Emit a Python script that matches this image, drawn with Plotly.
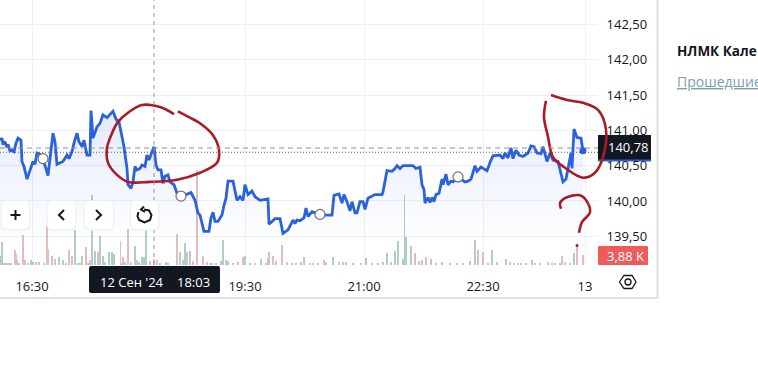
import plotly.graph_objects as go

W, H = 758, 370

# Price line: bar index / price
price_x = [0,2,3,5,7,8,10,12,14,16,18,21,22,24,27,29,31,33,35,37,40,43,46,48,50,53,55,57,63,67,69,72,74,77,79,82,84,87,90,91,93,97,100,
           103,107,110,113,116,119,122,124,127,128,131,133,135,137,140,142,145,147,149,152,154,156,158,161,163,165,168,170,174,177,181,186,191,195,198,
           200,202,204,209,211,213,215,218,222,224,226,228,233,237,240,243,245,248,252,255,260,268,269,275,280,283,288,293,295,297,
           300,304,306,308,312,316,320,327,332,334,339,342,344,347,350,352,355,357,360,363,365,368,375,382,383,387,392,395,397,
           400,403,413,416,420,422,424,425,428,430,432,434,436,439,442,443,446,448,451,453,458,465,468,471,475,477,481,487,491,493,
           500,503,505,508,511,513,516,519,523,528,531,534,537,541,543,545,547,550,553,558,561,563,566,568,571,572,574,577,581,583]
price_y = [140.86,140.89,140.80,140.84,140.76,140.80,140.71,140.72,140.70,140.82,140.89,140.86,140.56,140.49,140.31,140.39,140.46,140.56,140.52,140.68,140.66,140.58,140.46,140.36,140.60,140.96,140.84,140.52,140.56,140.65,140.60,140.70,140.82,140.96,140.84,140.77,140.86,140.65,140.65,141.28,140.89,141.05,141.10,
           141.22,141.18,141.22,141.27,141.16,141.12,140.91,140.77,140.46,140.23,140.18,140.27,140.49,140.44,140.46,140.51,140.49,140.65,140.58,140.70,140.77,140.51,140.44,140.44,140.25,140.35,140.37,140.27,140.23,140.11,140.07,140.09,140.12,140.01,139.83,
           139.80,139.66,139.57,139.57,139.76,139.84,139.71,139.71,139.80,139.94,140.04,140.28,140.28,140.01,140.06,140.01,140.23,140.09,140.14,140.06,140.01,140.03,139.67,139.75,139.75,139.54,139.59,139.73,139.68,139.73,
           139.72,139.76,139.90,139.78,139.85,139.83,139.81,139.80,139.80,140.08,140.10,139.97,140.09,139.99,139.86,139.99,139.83,139.83,139.99,139.99,139.88,140.04,140.09,140.09,140.13,140.43,140.42,140.46,140.50,
           140.46,140.50,140.50,140.46,140.48,140.23,140.16,139.97,140.05,139.98,140.05,139.99,140.09,140.11,140.31,140.23,140.38,140.23,140.28,140.27,140.34,140.27,140.28,140.31,140.50,140.42,140.48,140.43,140.58,140.64,
           140.65,140.60,140.68,140.61,140.75,140.60,140.72,140.65,140.63,140.68,140.78,140.77,140.68,140.67,140.77,140.65,140.56,140.68,140.58,140.56,140.39,140.27,140.31,140.46,140.68,140.46,141.02,140.90,140.89,140.71]

# Hollow event markers
event_x = [43, 181, 320, 458]
event_y = [140.60, 140.07, 139.81, 140.34]

# Volume (thousands)
vol_up_x = [0,2,4,6,11,19,28,31,33,39,44,59,63,66,75,78,82,88,92,95,100,103,105,109,112,114,121,125,135,139,142,144,146,160,166,180,183,185,190,
            207,212,216,221,223,226,228,233,245,250,261,266,276,287,292,
            301,304,310,318,333,343,353,366,372,383,387,391,395,398,403,404.5,406,411,431,442,450,457,470,475,492,497,
            506,514,521,526,532,540,552,560,570,574]
vol_up = [3.6,9.0,0.8,0.7,0.6,0.6,0.8,2.1,1.0,1.3,0.7,3.0,2.1,0.7,13.7,0.8,3.6,0.9,27.0,5.6,11.2,3.6,1.0,5.0,5.0,4.3,0.9,1.0,7.5,1.0,3.0,3.0,13.7,0.7,1.0,5.0,2.1,8.5,5.6,
          0.8,0.7,0.6,1.7,9.7,2.1,1.7,0.7,3.6,0.6,2.3,0.8,1.7,1.3,0.6,
          1.0,3.0,0.5,0.6,3.0,1.0,0.7,2.6,0.6,1.3,4.6,1.0,5.6,9.5,2.3,27.0,10.7,7.5,2.3,1.0,0.6,0.7,1.7,9.7,6.0,1.0,
          2.3,0.7,0.6,0.7,2.0,0.6,0.7,0.6,0.8,4.5]
vol_down_x = [7,9,15,16,17,23,25,36,47,48,52,55,69,72,80,86,90,98,120.7,123,128,131,137,150,154,157,168,177,187,193,197,
              203,207,210,238,243,255,268,269,273,282,296,
              313,324,326,339,346,361,378,415,419,422,426,436,463,478,483,488,
              510,518,535,548,555,562,565,577,583]
vol_down = [0.8,0.6,6.0,4.3,2.0,11.5,2.0,1.3,15.2,6.2,3.4,2.3,6.0,3.4,0.6,7.0,2.1,4.9,9.4,3.0,14.0,1.0,2.0,1.7,2.3,2.0,0.8,12.0,5.0,1.7,36.9,
            3.6,1.3,0.6,1.3,3.0,0.6,2.6,5.0,3.6,7.8,0.7,
            0.6,2.1,1.0,1.3,1.0,0.6,0.7,4.5,1.7,2.1,3.0,0.7,0.7,6.0,4.9,0.8,
            1.3,0.6,0.7,1.0,0.6,3.6,1.0,6.8,3.9]

# Hand-drawn ink, on scales that run across the full width
ink1a_x = [174,160,142,128,118,112,107,108,117,128,150,177,200,217,219,213,200,190,178]
ink1a_y = [141.23,141.33,141.36,141.25,141.12,140.96,140.75,140.54,140.37,140.27,140.27,140.30,140.40,140.54,140.72,140.93,141.10,141.18,141.27]
ink2_x = [546,544,548,553,565,583,595,603,606,598,583,567,551]
ink2_y = [141.42,141.19,140.91,140.62,140.47,140.33,140.40,140.62,141.01,141.29,141.39,141.43,141.50]
ink3_x = [561,560,565,580,587,590,582,579]
ink3_y = [139.89,139.97,140.04,140.08,139.99,139.84,139.70,139.55]
ink_dot_x = [577]
ink_dot_y = [139.37]

# Axes
x_ticks = [32, 245, 364, 483, 585]
x_labels = ["16:30", "19:30", "21:00", "22:30", "13"]
y_ticks = [139.5, 140.0, 140.5, 141.0, 141.5, 142.0, 142.5]
price_range = [139.093, 142.847]
crosshair_x = 154
crosshair_price = 140.75
last_price_line = 140.69

FONT = "Open Sans, sans-serif"
INK = "#a81c22"
BLUE = "#2b62dc"
DARK = "#131722"

def px(x): return x / W
def py(y): return 1 - y / H

def rrect(x0, y0, x1, y1, r, **kw):
    X0, X1, Xa, Xb = px(x0), px(x1), px(x0 + r), px(x1 - r)
    Y0, Y1, Ya, Yb = py(y0), py(y1), py(y0 + r), py(y1 - r)
    path = (f"M{Xa},{Y0} L{Xb},{Y0} Q{X1},{Y0} {X1},{Ya} L{X1},{Yb} Q{X1},{Y1} {Xb},{Y1} "
            f"L{Xa},{Y1} Q{X0},{Y1} {X0},{Yb} L{X0},{Ya} Q{X0},{Y0} {Xa},{Y0} Z")
    return dict(type="path", path=path, xref="paper", yref="paper", **kw)

def poly(pts, close=False, **kw):
    path = "M" + " L".join(f"{px(a)},{py(b)}" for a, b in pts) + (" Z" if close else "")
    return dict(type="path", path=path, xref="paper", yref="paper", **kw)

fig = go.Figure()
fig.add_bar(x=vol_up_x, y=vol_up, width=0.5, marker=dict(color="#b0cdc8", line_width=0), yaxis="y", hoverinfo="skip")
fig.add_bar(x=vol_down_x, y=vol_down, width=0.5, marker=dict(color="#e3bcbc", line_width=0), yaxis="y", hoverinfo="skip")
fig.add_scatter(x=price_x, y=price_y, yaxis="y2", mode="none", fill="tozeroy",
                fillgradient=dict(type="vertical", start=139.4, stop=141.3,
                                  colorscale=[[0, "rgba(41,98,255,0)"], [1, "rgba(41,98,255,0.13)"]]))
fig.add_scatter(x=price_x, y=price_y, yaxis="y2", mode="lines", line=dict(color=BLUE, width=2.8))
fig.add_scatter(x=event_x, y=event_y, yaxis="y2", mode="markers",
                marker=dict(size=10, color="white", line=dict(color="#6b7078", width=1.2)))
fig.add_scatter(x=price_x[-1:], y=price_y[-1:], yaxis="y2", mode="markers", marker=dict(size=7, color=BLUE))
for ix, iy in [(ink1a_x, ink1a_y), (ink2_x, ink2_y), (ink3_x, ink3_y)]:
    fig.add_scatter(x=ix, y=iy, xaxis="x2", yaxis="y3", mode="lines",
                    line=dict(color=INK, width=2.6, shape="spline"))
fig.add_scatter(x=ink_dot_x, y=ink_dot_y, xaxis="x2", yaxis="y3", mode="markers", marker=dict(size=3, color=INK))

shapes = [
    # frame
    dict(type="line", xref="paper", yref="paper", x0=px(657.5), x1=px(657.5), y0=py(0), y1=py(298.5), line=dict(color="#dedede", width=2)),
    dict(type="line", xref="paper", yref="paper", x0=0, x1=px(658), y0=py(298), y1=py(298), line=dict(color="#dedede", width=2)),
    # crosshair and last-price lines
    dict(type="line", xref="x", yref="paper", x0=crosshair_x, x1=crosshair_x, y0=py(265), y1=1, line=dict(color="#8f9299", width=1, dash="4px,4px")),
    dict(type="line", xref="paper", yref="y2", x0=0, x1=px(598), y0=crosshair_price, y1=crosshair_price, line=dict(color="#8f9299", width=1, dash="5px,4px")),
    dict(type="line", xref="paper", yref="y2", x0=0, x1=px(598), y0=last_price_line, y1=last_price_line, line=dict(color="#555a64", width=1, dash="1px,2px")),
    # price-axis tags (below ink)
    dict(type="rect", xref="paper", yref="paper", x0=px(598), x1=px(651), y0=py(158), y1=py(161.5), fillcolor="#2b62dc", line_width=0, layer="below"),
    dict(type="rect", xref="paper", yref="paper", x0=px(598), x1=px(651), y0=py(135), y1=py(159.5), fillcolor=DARK, line_width=0, layer="below"),
    rrect(598, 246, 648, 265, 1, fillcolor="#ef5a5a", line_width=0, layer="above"),
    rrect(89, 266, 220, 293, 2, fillcolor=DARK, line_width=0, layer="above"),
]
for x0, x1 in [(2, 29), (48, 75), (85, 113), (131, 158)]:
    shapes.append(rrect(x0 - 1.5, 200, x1 + 1.5, 231, 6, fillcolor="#eef0f4", line_width=0, layer="above", opacity=0.8))
    shapes.append(rrect(x0, 201, x1, 229, 5, fillcolor="white", line_width=0, layer="above"))
icon = dict(line=dict(color="#131722", width=2), layer="above")
shapes += [
    poly([(10.5, 215), (20.5, 215)], **icon),
    poly([(15.5, 210), (15.5, 220)], **icon),
    poly([(64, 210), (59, 215), (64, 220)], **icon),
    poly([(96, 210), (101, 215), (96, 220)], **icon),
    poly([(138.5,212),(137.5,216),(139,220),(144.5,222.5),(150,220),(151.5,215),(149,210.5),(144,209.5)], **icon),
    poly([(144,206.5),(141,209.5),(145,212)], **icon),
    poly([(619.5,282),(624,275.5),(632,275.5),(636,282),(632,288.5),(624,288.5)], close=True, line=dict(color=DARK, width=1.3), layer="above"),
    dict(type="circle", xref="paper", yref="paper", x0=px(625), x1=px(631), y0=py(279), y1=py(285), line=dict(color=DARK, width=1.3), layer="above"),
]

def note(x, y, text, size=13, color=DARK, anchor="center"):
    return dict(xref="paper", yref="paper", x=px(x), y=py(y), text=text, showarrow=False,
                xanchor=anchor, yanchor="middle", font=dict(family=FONT, size=size, color=color))

annotations = [
    note(132, 282, "12 Сен '24", color="white"),
    note(193, 282, "18:03", color="white"),
    note(628, 147, "140,78", size=13, color="white"),
    note(625, 255.5, "3,88 K", size=13, color="white"),
    note(675, 51, "<b>НЛМК Кале</b>", size=13.5, anchor="left"),
    note(675, 82, "<u>Прошедшие</u>", size=14, color="#7c9db0", anchor="left"),
]

fig.update_layout(
    width=W, height=H, margin=dict(l=0, r=0, t=0, b=0), autosize=False,
    paper_bgcolor="white", plot_bgcolor="rgba(0,0,0,0)", showlegend=False, barmode="overlay",
    separators=", ", bargap=0,
    xaxis=dict(domain=[0, px(598)], range=[0, 598], tickmode="array", tickvals=x_ticks, ticktext=x_labels,
               showgrid=True, gridcolor="#eef0f3", zeroline=False, showline=False, ticks="outside", ticklen=9,
               tickcolor="rgba(0,0,0,0)", tickfont=dict(family=FONT, size=13, color=DARK)),
    xaxis2=dict(domain=[0, 1], range=[0, W], anchor="y3", visible=False),
    yaxis=dict(domain=[py(265), 1], range=[0, 102.8], visible=False),
    yaxis2=dict(domain=[py(265), 1], range=price_range, overlaying="y", side="right", anchor="x",
                tickmode="array", tickvals=y_ticks, tickformat=".2f", showgrid=True, gridcolor="#eef0f3",
                zeroline=False, showline=False, ticks="outside", ticklen=5, tickcolor="rgba(0,0,0,0)",
                tickfont=dict(family=FONT, size=13, color=DARK)),
    yaxis3=dict(domain=[py(265), 1], range=price_range, anchor="x2", visible=False),
    shapes=shapes, annotations=annotations,
)
fig.write_html("out.html", config=dict(displayModeBar=False),
               post_script="document.body.style.margin='0';document.documentElement.style.overflow='hidden';")
